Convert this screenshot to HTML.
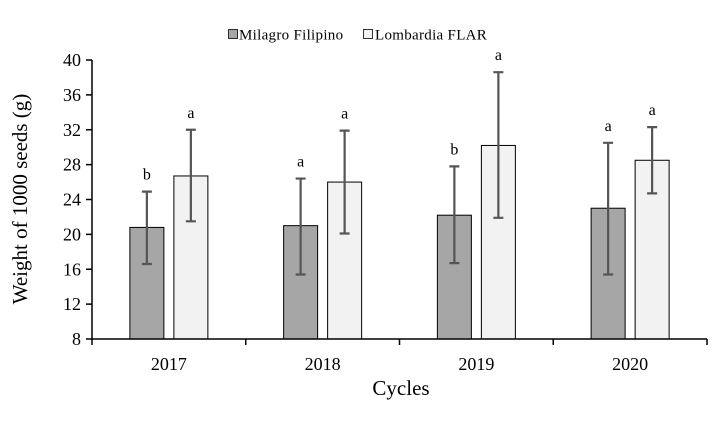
<!DOCTYPE html>
<html><head><meta charset="utf-8"><style>
body{margin:0;background:#fff;}
svg{display:block;font-family:"Liberation Serif",serif;}
</style></head><body>
<svg id="chart" width="723" height="437" viewBox="0 0 723 437">
<g>
 <rect x="228.5" y="29.5" width="9" height="9" fill="#a6a6a6" stroke="#000" stroke-width="0.8"/>
 <text x="239" y="39.5" font-size="15" letter-spacing="0.3">Milagro Filipino</text>
 <rect x="363.5" y="29.5" width="9" height="9" fill="#f2f2f2" stroke="#000" stroke-width="0.8"/>
 <text x="375" y="39.5" font-size="15" letter-spacing="0.3">Lombardia FLAR</text>
</g>
<text transform="translate(27,199) rotate(-90)" text-anchor="middle" font-size="21">Weight of 1000 seeds (g)</text>
<text x="401" y="395" text-anchor="middle" font-size="21">Cycles</text>
<g id="plot"></g>
</svg>
<script>
const categories=["2017","2018","2019","2020"];
const milagro=[20.8,21.0,22.2,23.0];
const milagroHi=[24.9,26.4,27.8,30.5];
const milagroLo=[16.6,15.4,16.7,15.4];
const lombardia=[26.7,26.0,30.2,28.5];
const lombardiaHi=[32.0,31.9,38.6,32.3];
const lombardiaLo=[21.5,20.1,21.9,24.7];
const milagroLetters=["b","a","b","a"];
const lombardiaLetters=["a","a","a","a"];
const yTicks=[8,12,16,20,24,28,32,36,40];

const NS="http://www.w3.org/2000/svg";
const g=document.getElementById("plot");
const x0=92,x1=707,yTop=60,yBot=339,yMin=8,yMax=40;
const y=v=>yBot-(v-yMin)/(yMax-yMin)*(yBot-yTop);
const bw=(x1-x0)/categories.length;
const xc=i=>x0+bw*(i+0.5);
function el(tag,attrs,txt){const e=document.createElementNS(NS,tag);for(const k in attrs)e.setAttribute(k,attrs[k]);if(txt!==undefined)e.textContent=txt;g.appendChild(e);return e;}

yTicks.forEach(t=>{
 const l=el("line",{x1:x0-6,x2:x0,y1:y(t),y2:y(t),stroke:"#000","stroke-width":1.5});
 
 
 const tx=el("text",{x:x0-11,y:y(t)+6,"text-anchor":"end","font-size":18},String(t));
 
 
});

const series=[
 {v:milagro,hi:milagroHi,lo:milagroLo,lt:milagroLetters,fill:"#a6a6a6",off:-22,name:"milagro"},
 {v:lombardia,hi:lombardiaHi,lo:lombardiaLo,lt:lombardiaLetters,fill:"#f2f2f2",off:22,name:"lombardia"}
];
const barW=34;
categories.forEach((c,i)=>{
 series.forEach(s=>{
  const cx=xc(i)+s.off;
  const r=el("rect",{x:cx-barW/2,y:y(s.v[i]),width:barW,height:yBot-y(s.v[i]),fill:s.fill,stroke:"#000","stroke-width":1});
  
  
  const e=el("path",{d:`M${cx},${y(s.hi[i])}V${y(s.lo[i])}M${cx-5},${y(s.hi[i])}H${cx+5}M${cx-5},${y(s.lo[i])}H${cx+5}`,stroke:"#555","stroke-width":2.2,fill:"none"});
  
  
  const t=el("text",{x:cx,y:y(s.hi[i])-12,"text-anchor":"middle","font-size":16},s.lt[i]);
  
  
 });
 const lb=el("text",{x:xc(i),y:370,"text-anchor":"middle","font-size":18},c);
 
 
});
for(let i=0;i<=categories.length;i++){
 const tk=el("line",{x1:x0+bw*i,x2:x0+bw*i,y1:yBot,y2:yBot+6,stroke:"#000","stroke-width":1.5});
 
 
}
const ya=el("line",{x1:x0,x2:x0,y1:yTop,y2:yBot,stroke:"#000","stroke-width":1.5});


const xa=el("line",{x1:x0,x2:x1,y1:yBot,y2:yBot,stroke:"#000","stroke-width":1.5});


</script>
</body></html>
